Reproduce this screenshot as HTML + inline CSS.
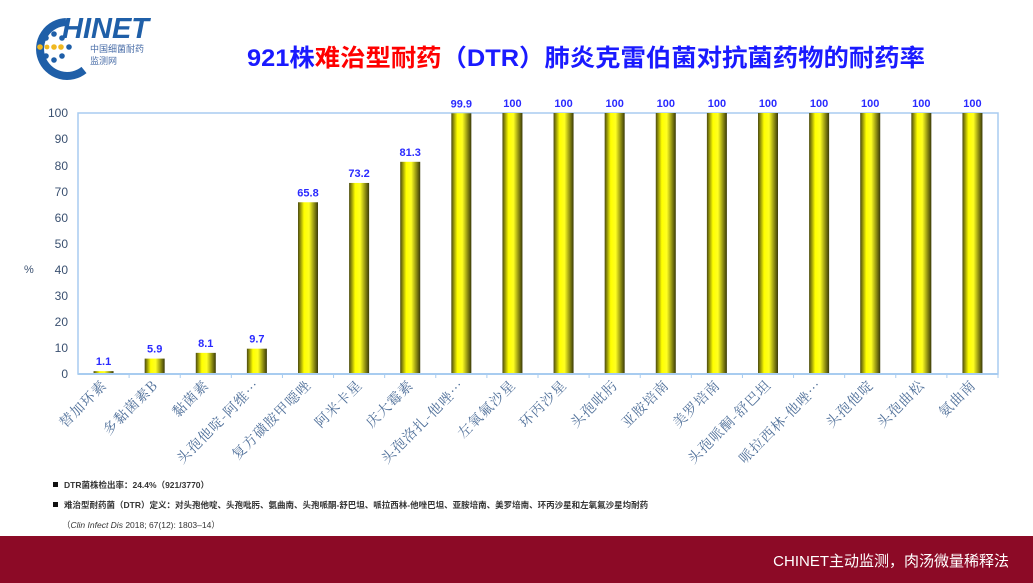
<!DOCTYPE html>
<html><head><meta charset="utf-8"><style>
body{margin:0;width:1033px;height:583px;background:#fff;overflow:hidden;font-family:"Liberation Sans","Noto Sans CJK SC",sans-serif}
</style></head><body>
<svg width="1033" height="583" xmlns="http://www.w3.org/2000/svg" style="position:absolute;left:0;top:0">
<defs>
<linearGradient id="g" x1="0" x2="1" y1="0" y2="0">
<stop offset="0" stop-color="#4a4a10"/><stop offset="0.3" stop-color="#ffff00"/><stop offset="0.55" stop-color="#ffff20"/><stop offset="1" stop-color="#3a3a08"/>
</linearGradient>
</defs>
<!-- logo -->
<path d="M66 22 A27 27 0 1 0 84 70" fill="none" stroke="#1f5fa8" stroke-width="8"/>
<g fill="#1f5fa8">
<circle cx="46" cy="38" r="2.8"/><circle cx="54" cy="34" r="2.8"/><circle cx="62" cy="38" r="2.8"/>
<circle cx="46" cy="56" r="2.8"/><circle cx="54" cy="60" r="2.8"/><circle cx="62" cy="56" r="2.8"/><circle cx="69" cy="47" r="2.8"/>
</g>
<g fill="#f0b820"><circle cx="40" cy="47" r="2.8"/><circle cx="54" cy="47" r="2.8"/><circle cx="47" cy="47" r="2.4"/><circle cx="61" cy="47" r="2.8"/></g>
<text x="62" y="38" font-size="29" font-weight="bold" font-style="italic" fill="#1f5fa8">HINET</text>
<text x="90" y="52" font-size="9" fill="#4a6ea8">中国细菌耐药</text>
<text x="90" y="64" font-size="9" fill="#4a6ea8">监测网</text>
<!-- title -->
<text x="586" y="66" text-anchor="middle" font-size="24" font-weight="bold" fill="#1a1aff" textLength="678" lengthAdjust="spacingAndGlyphs">921株<tspan fill="#ff0000">难治型耐药</tspan>（DTR）肺炎克雷伯菌对抗菌药物的耐药率</text>
<!-- plot -->
<rect x="78" y="113" width="920" height="261" fill="none" stroke="#a8ccf0" stroke-width="1.5"/>
<g font-size="12" fill="#3a5070" text-anchor="end">
<text x="68" y="378">0</text><text x="68" y="352">10</text><text x="68" y="326">20</text><text x="68" y="300">30</text><text x="68" y="274">40</text><text x="68" y="248">50</text><text x="68" y="222">60</text><text x="68" y="196">70</text><text x="68" y="170">80</text><text x="68" y="143">90</text><text x="68" y="117">100</text>
</g>
<text x="24" y="273" font-size="11" fill="#3a5070">%</text>
<g id="bars"></g>
<line x1="78" y1="374" x2="998" y2="374" stroke="#a8ccf0" stroke-width="2"/>
<!-- notes -->
<rect x="53" y="482" width="5" height="5" fill="#111"/>
<text x="64" y="488" font-size="8.5" font-weight="bold" fill="#333">DTR菌株检出率：24.4%（921/3770）</text>
<rect x="53" y="502" width="5" height="5" fill="#111"/>
<text x="64" y="508" font-size="8.5" font-weight="bold" fill="#333">难治型耐药菌（DTR）定义：对头孢他啶、头孢吡肟、氨曲南、头孢哌酮-舒巴坦、哌拉西林-他唑巴坦、亚胺培南、美罗培南、环丙沙星和左氧氟沙星均耐药</text>
<text x="62" y="528" font-size="8.5" fill="#333">（<tspan font-style="italic">Clin Infect Dis</tspan> 2018; 67(12): 1803–14）</text>
<rect x="0" y="536" width="1033" height="47" fill="#8c0a26"/>
<text x="1009" y="566" text-anchor="end" font-size="15" fill="#fff">CHINET主动监测，肉汤微量稀释法</text>
</svg>
<script>
var d=[["替加环素",1.1],["多黏菌素B",5.9],["黏菌素",8.1],["头孢他啶-阿维…",9.7],["复方磺胺甲噁唑",65.8],["阿米卡星",73.2],["庆大霉素",81.3],["头孢洛扎-他唑…",99.9],["左氧氟沙星",100],["环丙沙星",100],["头孢吡肟",100],["亚胺培南",100],["美罗培南",100],["头孢哌酮-舒巴坦",100],["哌拉西林-他唑…",100],["头孢他啶",100],["头孢曲松",100],["氨曲南",100]];
var s="",w=920/18;
d.forEach(function(e,i){var cx=78+w*(i+0.5),h=e[1]*2.61,y=374-h;
s+='<rect x="'+(cx-10)+'" y="'+y+'" width="20" height="'+h+'" fill="url(#g)"/>';
s+='<text x="'+cx+'" y="'+(y-6)+'" text-anchor="middle" font-size="11" font-weight="bold" fill="#2a2aff">'+(e[1]===100?'100':e[1].toFixed(1))+'</text>';
s+='<line x1="'+(78+w*(i+1))+'" y1="374" x2="'+(78+w*(i+1))+'" y2="378" stroke="#a8ccf0"/>';
s+='<text transform="translate('+(cx+4)+',386) rotate(-45)" text-anchor="end" font-size="14" letter-spacing="1" fill="#50709a" font-family="\'Noto Serif CJK SC\',serif">'+e[0]+'</text>';});
document.getElementById("bars").innerHTML=s;
</script>
</body></html>
